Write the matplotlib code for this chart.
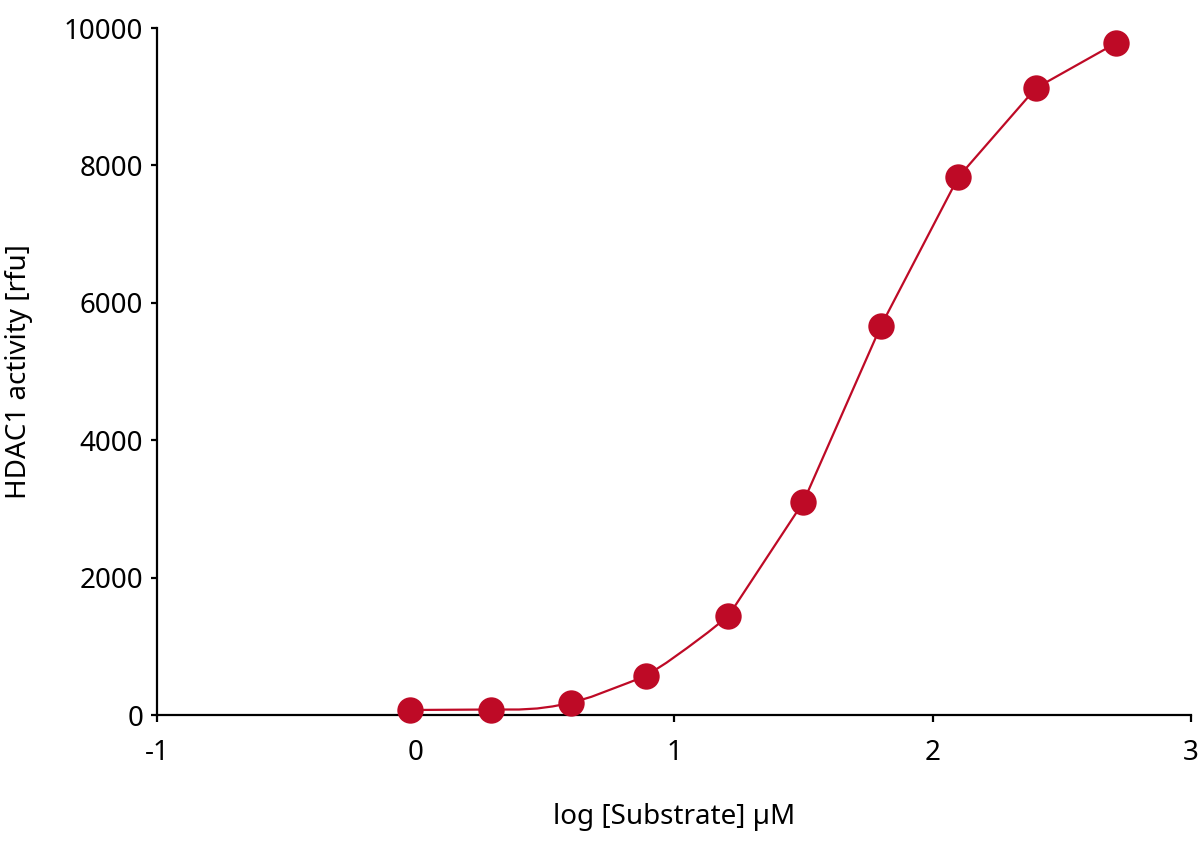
import matplotlib
matplotlib.use("Agg")
from matplotlib import pyplot as plt

# measured points, log10 of substrate concentration (uM) vs activity (rfu)
log_substrate = [-0.02, 0.29, 0.60, 0.89, 1.21, 1.50, 1.80, 2.10, 2.40, 2.71]
activity = [73, 80, 175, 568, 1441, 3100, 5662, 7831, 9127, 9782]

# fitted curve as drawn in the reference
fit_x = [-0.02, 0.29, 0.40, 0.47, 0.53, 0.60, 0.68, 0.75, 0.82, 0.89,
         0.97, 1.05, 1.13, 1.21, 1.50, 1.80, 2.10, 2.40, 2.71]
fit_y = [73, 80, 80, 95, 125, 175, 265, 365, 465, 568,
         760, 975, 1200, 1441, 3100, 5662, 7831, 9127, 9782]

x_ticks = [-1, 0, 1, 2, 3]
y_ticks = [0, 2000, 4000, 6000, 8000, 10000]

red = '#BE0A26'

plt.rcParams['font.family'] = ['Noto Sans', 'DejaVu Sans']

fig = plt.figure(figsize=(12, 8.51), dpi=100)
ax = fig.add_axes([0.131, 0.1598, 0.8615, 0.8072])

ax.plot(fit_x, fit_y, color=red, linewidth=1.6, zorder=2, clip_on=False)
ax.plot(log_substrate, activity, 'o', color=red, markersize=19,
        markeredgewidth=0, zorder=3, clip_on=False)

ax.set_xlim(-1, 3)
ax.set_ylim(0, 10000)
ax.set_xticks(x_ticks)
ax.set_yticks(y_ticks)
ax.set_xticklabels([str(t) for t in x_ticks])
ax.set_yticklabels([str(t) for t in y_ticks])

for side in ['top', 'right']:
    ax.spines[side].set_visible(False)
for side in ['left', 'bottom']:
    ax.spines[side].set_linewidth(1.6)

ax.tick_params(axis='x', direction='out', length=5, width=1.6, pad=12, labelsize=20)
ax.tick_params(axis='y', direction='out', length=4, width=1.6, pad=6, labelsize=20)

ax.set_xlabel('log [Substrate] µM', fontsize=20, labelpad=26)
ax.set_ylabel('HDAC1 activity [rfu]', fontsize=20, labelpad=22)

fig.savefig('out.png', dpi=100)
